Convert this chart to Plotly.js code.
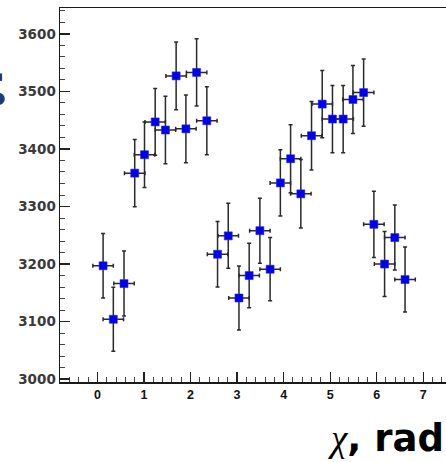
<!DOCTYPE html>
<html>
<head>
<meta charset="utf-8">
<script src="https://cdn.plot.ly/plotly-3.0.1.min.js"></script>
<style>
  html, body { margin: 0; padding: 0; background: #fff; overflow: hidden; }
  #chart { width: 446px; height: 462px; }
</style>
</head>
<body>
<div id="chart"></div>
<script>
// chi angle (rad) bin centres
const chi = [0.12, 0.34, 0.57, 0.80, 1.01, 1.24, 1.46, 1.69, 1.90, 2.13, 2.35,
             2.58, 2.81, 3.04, 3.26, 3.49, 3.71, 3.93, 4.15, 4.37, 4.60, 4.83, 5.05, 5.28, 5.49, 5.72,
             5.94, 6.17, 6.39, 6.61];
// measured values
const counts = [3197, 3104, 3166, 3358, 3390, 3447, 3433, 3527, 3435, 3533, 3449,
                3217, 3249, 3141, 3180, 3258, 3191, 3341, 3383, 3322, 3423, 3478, 3452, 3452, 3486, 3498,
                3269, 3200, 3246, 3173];
// vertical error
const countErr = [56, 55.5, 56.5, 58.5, 57, 58, 58.5, 59, 59, 58.5, 59,
                  57, 56.5, 55.5, 56, 56.5, 55, 57.5, 59, 59.5, 59.5, 58.5, 58.5, 58.5, 59, 58.5,
                  57.5, 56.5, 56.5, 56.5];
// horizontal error
const chiErr = [0.22, 0.22, 0.22, 0.22, 0.22, 0.22, 0.22, 0.22, 0.22, 0.22, 0.22,
                0.22, 0.22, 0.22, 0.22, 0.22, 0.22, 0.22, 0.22, 0.22, 0.22, 0.22, 0.22, 0.22, 0.22, 0.22,
                0.22, 0.22, 0.22, 0.22];
const xTickVals = [0, 1, 2, 3, 4, 5, 6, 7];
const yTickVals = [3000, 3100, 3200, 3300, 3400, 3500, 3600];

const trace = {
  x: chi, y: counts, type: 'scatter', mode: 'markers',
  marker: { symbol: 'square', size: 8, color: '#0000ee', line: { width: 0.8, color: 'rgba(40,40,220,0.7)' } },
  error_y: { type: 'data', array: countErr, visible: true, color: '#2a2a2a', thickness: 1.5, width: 2 },
  error_x: { type: 'data', array: chiErr, visible: true, color: '#2a2a2a', thickness: 1.5, width: 2 },
  cliponaxis: false,
  hoverinfo: 'skip'
};

const layout = {
  width: 446, height: 462,
  margin: { l: 60, r: 0, t: 8, b: 80, pad: 0 },
  paper_bgcolor: '#ffffff', plot_bgcolor: '#ffffff',
  showlegend: false,
  xaxis: {
    range: [-0.806, 7.49],
    tickmode: 'array', tickvals: xTickVals, ticktext: xTickVals.map(String),
    ticks: 'inside', ticklen: 10, tickwidth: 1.2, tickcolor: '#222',
    minor: { dtick: 0.2, tick0: 0, ticks: 'inside', ticklen: 5, tickwidth: 1, tickcolor: '#444', showgrid: false },
    showline: true, linewidth: 1.5, linecolor: '#1a1a1a', mirror: true,
    showgrid: false, zeroline: false,
    tickfont: { family: 'Liberation Sans', size: 12.5, color: '#111', weight: 'bold' }
  },
  yaxis: {
    range: [2995, 3645],
    tickmode: 'array', tickvals: yTickVals, ticktext: yTickVals.map(String),
    ticks: 'inside', ticklen: 10, tickwidth: 1.5, tickcolor: '#222',
    minor: { dtick: 20, tick0: 3000, ticks: 'inside', ticklen: 5, tickwidth: 1, tickcolor: '#444', showgrid: false },
    showline: true, linewidth: 1.5, linecolor: '#1a1a1a', mirror: false,
    showgrid: false, zeroline: false,
    tickfont: { family: 'DejaVu Sans', size: 13.5, color: '#3a3a3a', weight: 'bold' }
  },
  shapes: [
    { type: 'circle', xref: 'paper', yref: 'paper', x0: -0.172, x1: -0.143, y0: 0.741, y1: 0.773,
      fillcolor: '#1b3c7a', line: { width: 0 } },
    { type: 'rect', xref: 'paper', yref: 'paper', x0: -0.16, x1: -0.150, y0: 0.805, y1: 0.825,
      fillcolor: '#1b3c7a', line: { width: 0 } }
  ],
  annotations: [
    {
      xref: 'paper', yref: 'paper', x: 1.0, y: -0.15, xanchor: 'right', yanchor: 'middle',
      showarrow: false,
      text: '<span style="font-family:Liberation Serif;font-weight:normal"><i>χ</i></span>, rad',
      font: { family: 'DejaVu Sans', size: 37, color: '#000', weight: 'bold' }
    }
  ]
};

Plotly.newPlot('chart', [trace], layout, { staticPlot: true, displayModeBar: false });
</script>
</body>
</html>
